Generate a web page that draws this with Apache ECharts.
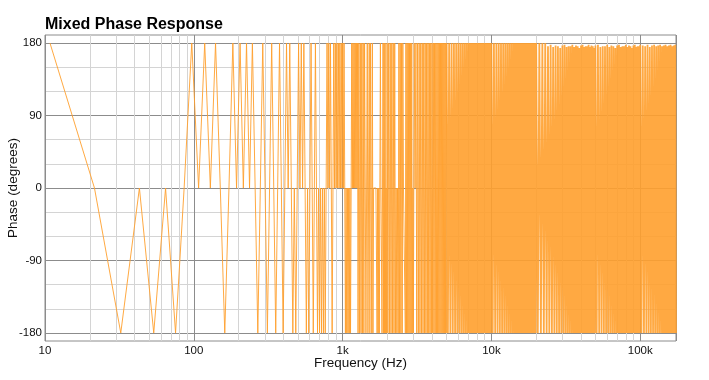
<!DOCTYPE html>
<html>
<head>
<meta charset="utf-8">
<script src="https://cdn.jsdelivr.net/npm/echarts@6/dist/echarts.min.js"></script>
<style>
html,body{margin:0;padding:0;background:#fff;}
#chart{width:709px;height:380px;}
</style>
</head>
<body>
<div id="chart"></div>
<script>
// ---- data (frequency Hz, phase degrees) ----
const chartTitle = 'Mixed Phase Response';
const xTickValues = [10, 100, 1000, 10000, 100000];
const xTickLabels = ['10', '100', '1k', '10k', '100k'];
const yTickValues = [-180, -90, 0, 90, 180];
const yMinorValues = [-150, -120, -60, -30, 30, 60, 120, 150];

// individual FFT bins, 10 Hz .. 1.26 kHz
const lowPoints = [
[10.8,180],[21.5,0],[32.3,-180],[43.1,0],[53.8,-180],[64.6,0],[75.4,-180],[86.1,0],[96.9,180],[107.7,0],
[118.4,180],[129.2,0],[140.0,180],[150.7,0],[161.5,-180],[172.3,0],[183.0,180],[193.8,0],[204.6,180],[215.3,0],
[226.1,180],[236.9,0],[247.6,180],[258.4,0],[269.2,-180],[279.9,0],[290.7,180],[301.5,0],[312.2,-180],[323.0,0],
[333.8,180],[344.5,0],[355.3,-180],[366.1,0],[376.8,180],[387.6,0],[398.4,-180],[409.1,0],[419.9,180],[430.7,0],
[441.4,180],[452.2,0],[463.0,-180],[473.7,0],[484.5,-180],[495.3,0],[506.0,180],[516.8,0],[527.6,180],[538.3,0],
[549.1,180],[559.9,0],[570.6,-180],[581.4,0],[592.2,-180],[602.9,0],[613.7,180],[624.5,0],[635.2,-180],[646.0,0],
[656.8,180],[667.5,0],[678.3,-180],[689.1,0],[699.8,-180],[710.6,0],[721.4,-180],[732.1,0],[742.9,-180],[753.7,0],
[764.4,-180],[775.2,0],[786.0,180],[796.7,0],[807.5,180],[818.3,0],[829.0,180],[839.8,0],[850.6,-180],[861.3,0],
[872.1,180],[882.9,0],[893.6,180],[904.4,0],[915.2,180],[925.9,0],[936.7,180],[947.5,0],[958.2,180],[969.0,0],
[979.8,180],[990.5,0],[1001.3,180],[1012.1,0],[1022.8,180],[1033.6,0],[1044.4,-180],[1055.1,0],[1065.9,-180],[1076.7,0],
[1087.4,-180],[1098.2,0],[1109.0,-180],[1119.7,0],[1130.5,-180],[1141.3,0],[1152.0,180],[1162.8,0],[1173.6,180],[1184.3,0],
[1195.1,180],[1205.9,0],[1216.6,180],[1227.4,0],[1238.2,180],[1248.9,0],[1259.7,180]
];

// 1.27 kHz .. 5 kHz (estimated, thinned)
const midPoints = [
[1270,-180],[1285,180],[1300,-180],[1315,180],[1330,-180],[1345,180],[1360,-180],[1375,180],[1390,-180],[1405,180],
[1420,0],[1435,-180],[1450,0],[1465,180],[1480,-180],[1495,0],[1510,180],[1525,-180],[1540,180],[1555,0],
[1570,-180],[1585,180],[1600,-180],[1615,0],[1630,0],[1645,0],[1660,0],[1675,0],[1690,0],[1705,-180],
[1720,0],[1735,-180],[1750,0],[1765,-180],[1780,0],[1795,180],[1810,0],[1825,0],[1840,-180],[1855,0],
[1870,180],[1885,-180],[1900,180],[1915,-180],[1930,180],[1945,-180],[1960,0],[1975,-180],[1990,180],
[2015,-180],[2040,180],[2065,-180],[2090,180],[2115,-180],[2140,180],[2165,-180],[2190,180],[2215,-180],[2240,180],
[2265,-180],[2290,0],[2315,-180],[2340,0],[2365,-180],[2390,180],[2415,-180],[2440,180],[2465,-180],[2490,180],
[2515,-180],[2540,180],[2565,0],[2590,0],[2615,0],[2640,-180],[2665,180],[2690,-180],[2715,180],[2740,-180],
[2765,180],[2790,-180],[2815,180],[2840,-180],[2865,180],[2890,-180],[2915,180],[2940,-180],[2965,0],[2990,-180],
[3030,180],[3070,0],[3110,180],[3150,-180],[3190,180],[3230,-180],[3270,180],[3310,-180],[3350,180],[3390,-180],
[3430,180],[3470,-180],[3510,180],[3550,-180],[3590,180],[3630,-180],[3670,180],[3710,-180],[3750,180],[3790,-180],
[3830,180],[3870,-180],[3910,180],[3950,-180],[3990,180],[4030,-180],[4070,180],[4110,-180],[4150,180],[4190,-180],
[4230,180],[4270,-180],[4310,180],[4350,-180],[4390,180],[4430,-180],[4470,180],[4510,-180],[4550,180],[4590,-180],
[4630,180],[4670,-180],[4710,180],[4750,-180],[4790,180],[4830,-180],[4870,180],[4910,-180],[4950,180],[4990,-180]
];

// 5 kHz .. 174 kHz dense band (estimated, thinned)
const densePoints = [
[5000,180],[5100,-180],[5200,180],[5300,-180],[5400,180],[5500,-180],[5600,180],[5700,-180],[5800,180],[5900,-180],
[6000,180],[6100,-180],[6200,180],[6300,-180],[6400,180],[6500,-180],[6600,180],[6700,-180],[6800,180],[6900,-180],
[7000,180],[7100,-180],[7200,180],[7300,-180],[7400,180],[7500,-180],[7600,180],[7700,-180],[7800,180],[7900,-180],
[8000,180],[8100,-180],[8200,180],[8300,-180],[8400,180],[8500,-180],[8600,180],[8700,-180],[8800,180],[8900,-180],
[9000,180],[9100,-180],[9200,180],[9300,-180],[9400,180],[9500,-180],[9600,180],[9700,-180],[9800,180],[9900,-180],
[10000,180],[10200,-180],[10400,180],[10600,-180],[10800,180],[11000,-180],[11200,180],[11400,-180],[11600,180],[11800,-180],
[12000,180],[12200,-180],[12400,180],[12600,-180],[12800,180],[13000,-180],[13200,180],[13400,-180],[13600,180],[13800,-180],
[14000,180],[14200,-180],[14400,180],[14600,-180],[14800,180],[15000,-180],[15200,180],[15400,-180],[15600,180],[15800,-180],
[16000,180],[16200,-180],[16400,180],[16600,-180],[16800,180],[17000,-180],[17200,180],[17400,-180],[17600,180],[17800,-180],
[18000,180],[18200,-180],[18400,180],[18600,-180],[18800,180],[19000,-180],[19200,180],[19400,-180],[19600,180],[19800,-180],
[20000,180],[20500,-180],[21000,180],[21500,-180],[22000,180],[22500,-180],[23000,180],[23500,-180],[24000,176],[24500,-180],
[25000,178],[25500,-180],[26000,175],[26500,-180],[27000,177],[27500,-180],[28000,176],[28500,-180],[29000,174],[29500,-180],
[30000,177],[30500,-180],[31000,178],[31500,-180],[32000,175],[32500,-180],[33000,176],[33500,-180],[34000,176],[34500,-180],
[35000,178],[35500,-180],[36000,175],[36500,-180],[37000,177],[37500,-180],[38000,176],[38500,-180],[39000,174],[39500,-180],
[40000,177],[40500,-180],[41000,178],[41500,-180],[42000,175],[42500,-180],[43000,176],[43500,-180],[44000,176],[44500,-180],
[45000,178],[45500,-180],[46000,175],[46500,-180],[47000,177],[47500,-180],[48000,176],[48500,-180],[49000,174],[49500,-180],
[50000,177],[51000,-180],[52000,178],[53000,-180],[54000,175],[55000,-180],[56000,176],[57000,-180],[58000,176],[59000,-180],
[60000,178],[61000,-180],[62000,175],[63000,-180],[64000,177],[65000,-180],[66000,176],[67000,-180],[68000,174],[69000,-180],
[70000,177],[71000,-180],[72000,178],[73000,-180],[74000,175],[75000,-180],[76000,176],[77000,-180],[78000,176],[79000,-180],
[80000,178],[81000,-180],[82000,175],[83000,-180],[84000,177],[85000,-180],[86000,176],[87000,-180],[88000,174],[89000,-180],
[90000,177],[91000,-180],[92000,178],[93000,-180],[94000,175],[95000,-180],[96000,176],[97000,-180],[98000,176],[99000,-180],
[100000,178],[102000,-180],[104000,177],[106000,-180],[108000,176],[110000,-180],[112000,178],[114000,-180],[116000,175],[118000,-180],
[120000,177],[122000,-180],[124000,178],[126000,-180],[128000,176],[130000,-180],[132000,177],[134000,-180],[136000,178],[138000,-180],
[140000,176],[142000,-180],[144000,177],[146000,-180],[148000,178],[150000,-180],[152000,176],[154000,-180],[156000,177],[158000,-180],
[160000,178],[162000,-180],[164000,176],[166000,-180],[168000,177],[170000,-180],[172000,178],[174000,-180]
];

const xMin = 10, xMax = 174000, yMin = -190, yMax = 190;

const lineColor = 'rgba(255,160,45,0.9)';
const fontFam = '"Liberation Sans", Arial, Helvetica, sans-serif';

const chart = echarts.init(document.getElementById('chart'), null, {renderer: 'canvas'});

function xLabel(v) {
  let best = 0, bestD = Infinity;
  for (let i = 0; i < xTickValues.length; i++) {
    const d = Math.abs(Math.log10(v) - Math.log10(xTickValues[i]));
    if (d < bestD) { bestD = d; best = i; }
  }
  return bestD < 0.01 ? xTickLabels[best] : '';
}

chart.setOption({
  animation: false,
  backgroundColor: '#ffffff',
  title: {
    text: chartTitle, left: 45, top: 17, padding: 0,
    textStyle: {fontFamily: fontFam, fontWeight: 'bold', fontSize: 16, color: '#000'}
  },
  grid: {
    left: 45, right: 33, top: 35, bottom: 39, show: true,
    borderColor: '#8c8c8c', borderWidth: 1, backgroundColor: 'transparent',
    containLabel: false, outerBoundsMode: 'none'
  },
  xAxis: [{
    type: 'log', logBase: 10, min: xMin, max: xMax,
    axisLine: {show: false}, axisTick: {show: false},
    axisLabel: {margin: 4, fontSize: 11.5, color: '#111', fontFamily: fontFam, formatter: xLabel},
    splitLine: {show: true, lineStyle: {color: '#8c8c8c', width: 1}},
    minorTick: {show: false, splitNumber: 9},
    minorSplitLine: {show: true, lineStyle: {color: '#d4d4d4', width: 1}},
    name: 'Frequency (Hz)', nameLocation: 'middle', nameGap: 15, nameMoveOverlap: false,
    nameTextStyle: {fontSize: 13.5, color: '#111', fontFamily: fontFam}
  }],
  yAxis: [{
    type: 'value', min: yMin, max: yMax,
    axisLine: {show: false},
    axisTick: {show: false, customValues: yTickValues},
    axisLabel: {customValues: yTickValues, margin: 3, fontSize: 11.5, color: '#111', fontFamily: fontFam},
    splitLine: {show: true, lineStyle: {color: '#8c8c8c', width: 1}},
    name: 'Phase (degrees)', nameLocation: 'middle', nameGap: 25, nameMoveOverlap: false,
    nameTextStyle: {fontSize: 13.5, color: '#111', fontFamily: fontFam}
  }, {
    type: 'value', min: yMin, max: yMax, position: 'left',
    axisLine: {show: false},
    axisTick: {show: false, customValues: yMinorValues},
    axisLabel: {show: false, customValues: yMinorValues},
    splitLine: {show: true, lineStyle: {color: '#d4d4d4', width: 1}}
  }],
  series: [{
    type: 'line', xAxisIndex: 0, yAxisIndex: 0,
    data: lowPoints.concat(midPoints),
    symbol: 'none', showSymbol: false, silent: true,
    lineStyle: {color: lineColor, width: 1}, z: 5
  }, {
    type: 'line', xAxisIndex: 0, yAxisIndex: 0,
    data: densePoints,
    symbol: 'none', showSymbol: false, silent: true,
    lineStyle: {color: lineColor, width: 1.8}, z: 5
  }]
});
</script>
</body>
</html>
